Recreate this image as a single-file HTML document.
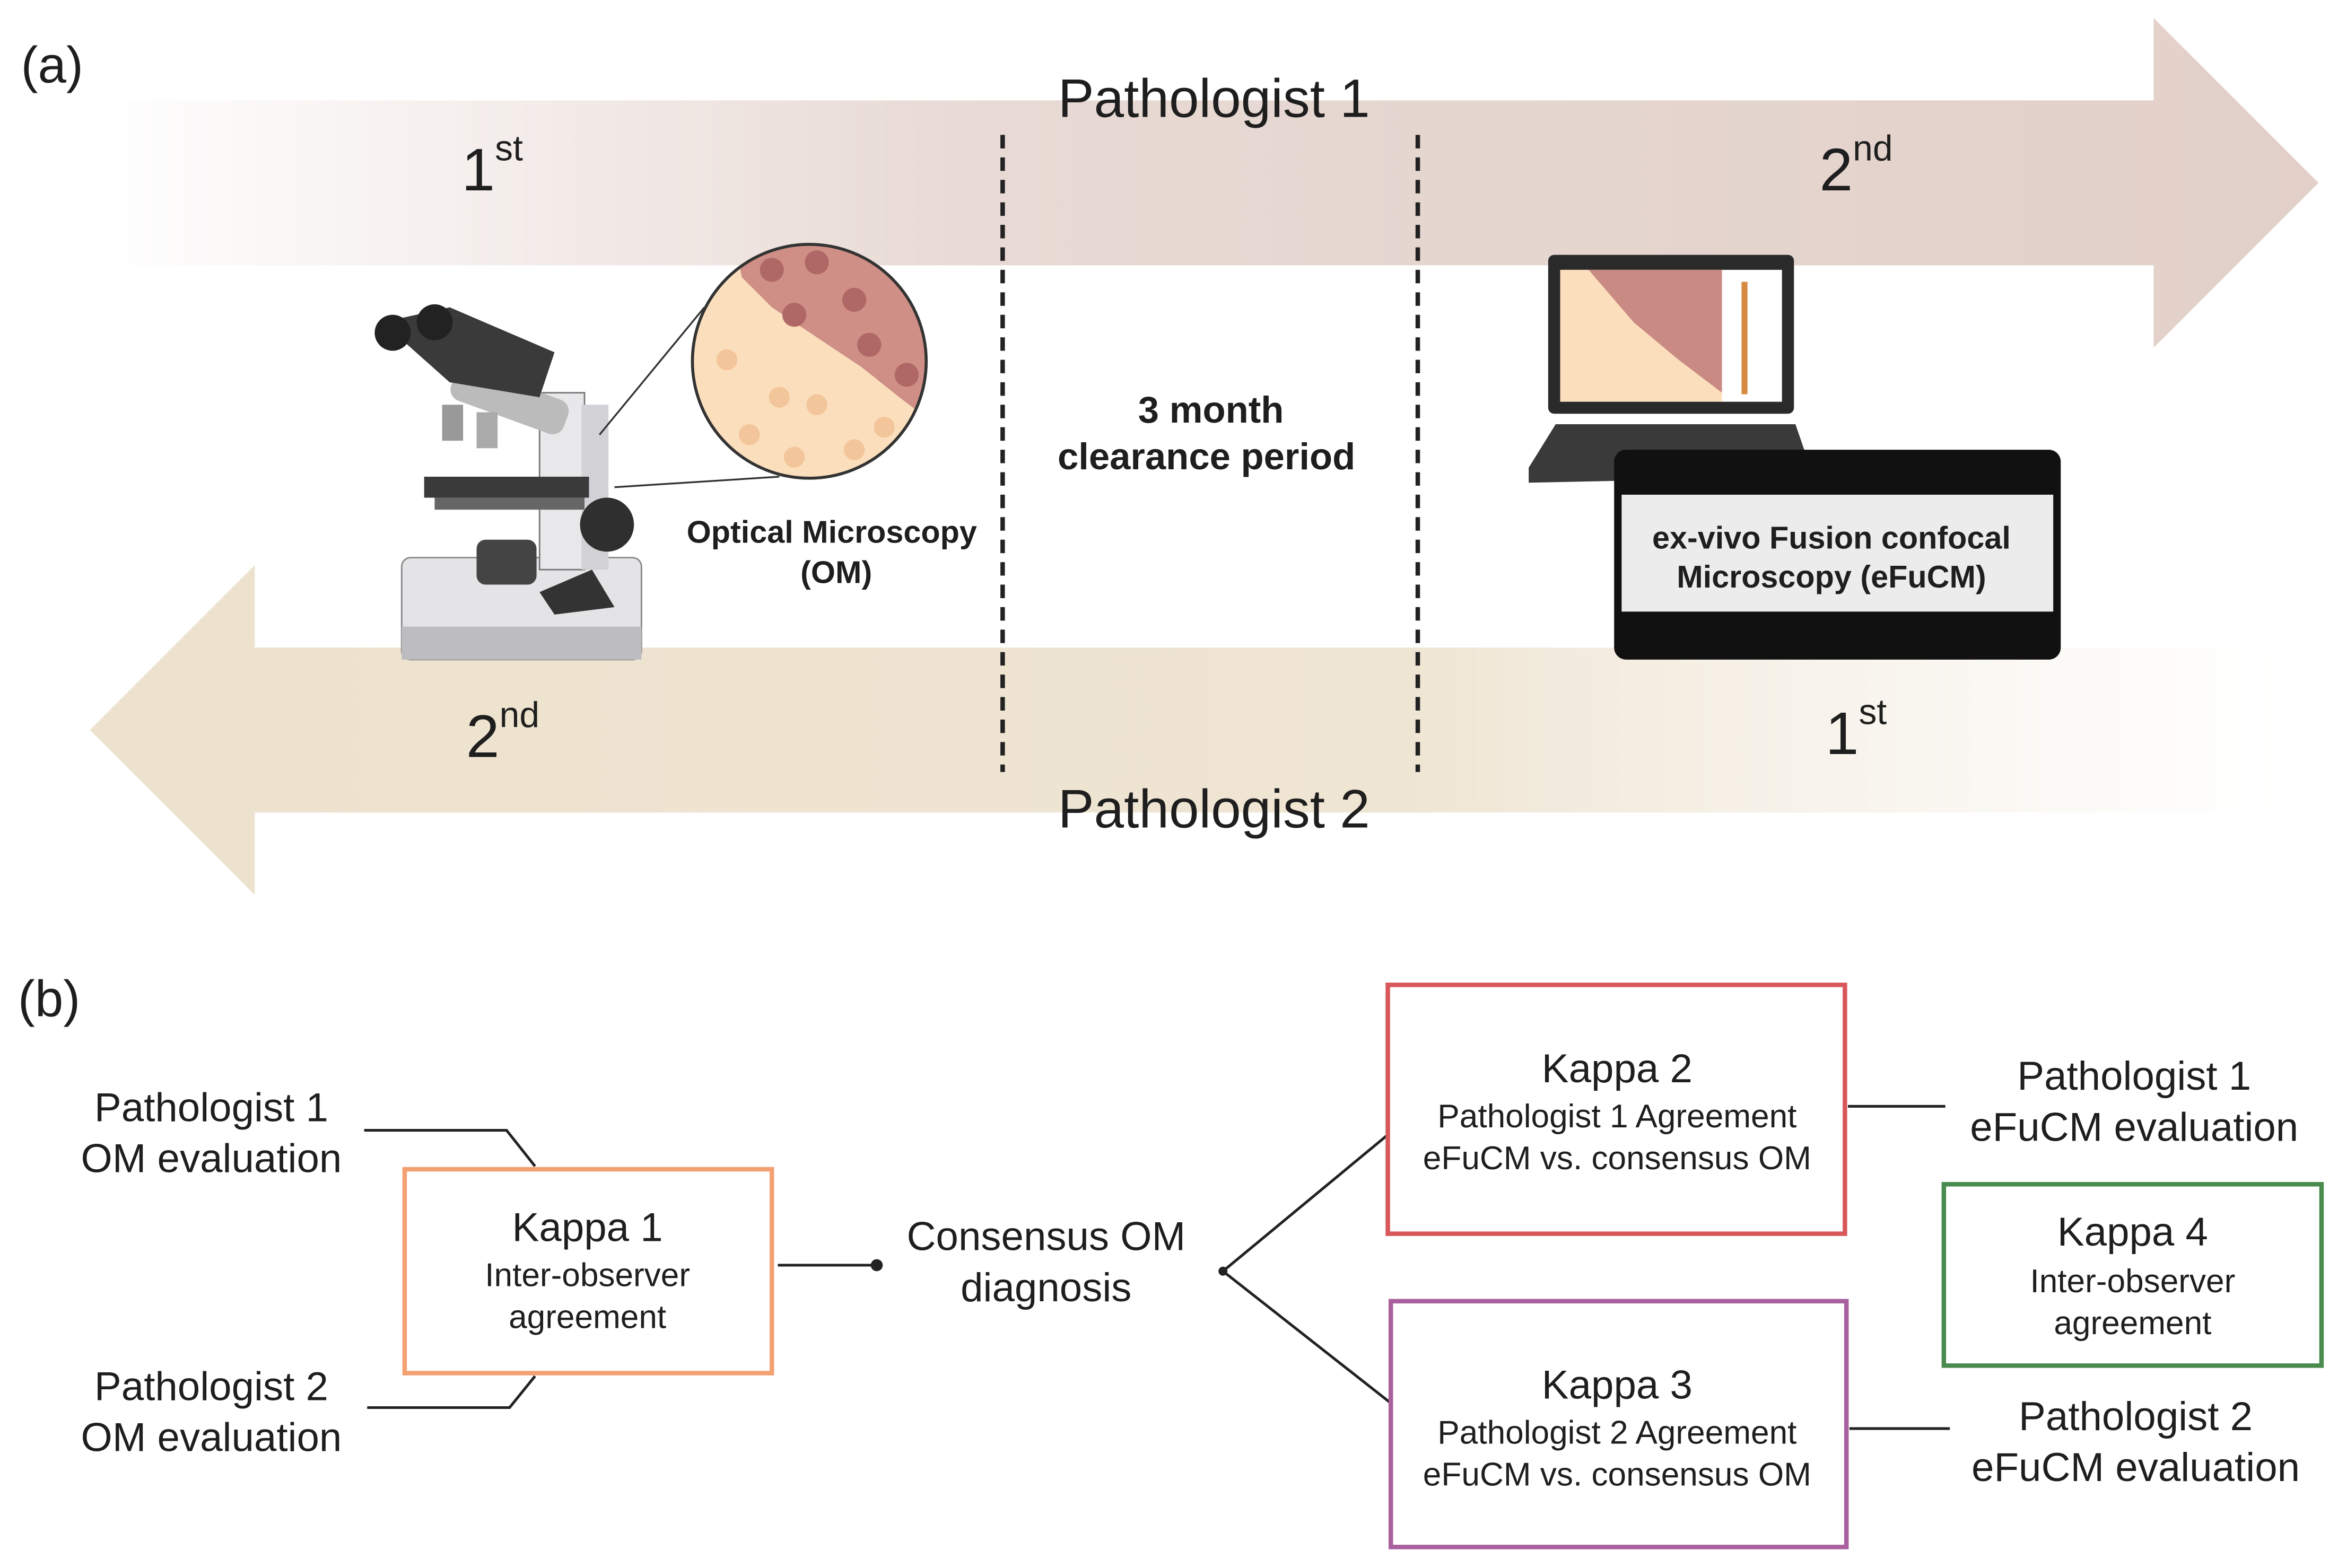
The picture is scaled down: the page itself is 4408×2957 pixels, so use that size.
<!DOCTYPE html>
<html><head><meta charset="utf-8"><style>
html,body{margin:0;padding:0;background:#fff;}
svg{display:block;}
text{font-family:"Liberation Sans",sans-serif;fill:#1e1e1e;}
</style></head><body>
<svg width="4408" height="2957" viewBox="0 0 1560 1046" preserveAspectRatio="none" xmlns="http://www.w3.org/2000/svg">
<defs>
<linearGradient id="g1" x1="60" y1="0" x2="1547" y2="0" gradientUnits="userSpaceOnUse">
<stop offset="0" stop-color="#e5d5cf" stop-opacity="0"/>
<stop offset="0.4" stop-color="#e5d5cf" stop-opacity="0.9"/>
<stop offset="1" stop-color="#e2d0c9"/>
</linearGradient>
<linearGradient id="g2" x1="60" y1="0" x2="1525" y2="0" gradientUnits="userSpaceOnUse">
<stop offset="0" stop-color="#ede2cd"/>
<stop offset="0.6" stop-color="#efe5d3"/>
<stop offset="1" stop-color="#f3ece0" stop-opacity="0"/>
</linearGradient>
<clipPath id="cc"><circle cx="540" cy="241" r="78"/></clipPath>
<clipPath id="sc"><rect x="1041" y="180" width="108" height="88"/></clipPath>
</defs>
<rect width="1560" height="1046" fill="#fff"/>
<!-- top arrow -->
<path d="M60 67 H1437 V12 L1547 122 L1437 232 V177 H60 Z" fill="url(#g1)"/>
<!-- bottom arrow -->
<path d="M1525 432 H170 V377 L60 487 L170 597 V542 H1525 Z" fill="url(#g2)"/>
<line x1="669" y1="90" x2="669" y2="515" stroke="#222" stroke-width="3" stroke-dasharray="9,6"/>
<line x1="946" y1="90" x2="946" y2="515" stroke="#222" stroke-width="3" stroke-dasharray="9,6"/>
<text x="14" y="55" font-size="34">(a)</text>
<text x="810" y="78" font-size="36" text-anchor="middle">Pathologist 1</text>
<text x="308" y="127" font-size="40">1<tspan font-size="24" dy="-20">st</tspan></text>
<text x="1214" y="127" font-size="40">2<tspan font-size="24" dy="-20">nd</tspan></text>
<text x="311" y="505" font-size="40">2<tspan font-size="24" dy="-20">nd</tspan></text>
<text x="1218" y="503" font-size="40">1<tspan font-size="24" dy="-20">st</tspan></text>
<text x="810" y="552" font-size="36" text-anchor="middle">Pathologist 2</text>
<text x="808" y="282" font-size="25" font-weight="bold" text-anchor="middle">3 month</text>
<text x="805" y="313" font-size="25" font-weight="bold" text-anchor="middle">clearance period</text>
<!-- microscope -->
<g>
<rect x="268" y="372" width="160" height="68" rx="6" fill="#e4e4e6" stroke="#888" stroke-width="1"/>
<rect x="268" y="418" width="160" height="22" fill="#bdbdc1"/>
<polygon points="360,395 395,380 410,405 370,410" fill="#333"/>
<rect x="360" y="262" width="30" height="118" fill="#e8e8ea" stroke="#777"/>
<rect x="388" y="270" width="18" height="110" fill="#d2d2d6"/>
<rect x="283" y="318" width="110" height="14" fill="#3a3a3a"/>
<rect x="290" y="332" width="100" height="8" fill="#666"/>
<rect x="318" y="360" width="40" height="30" rx="6" fill="#444"/>
<circle cx="405" cy="350" r="18" fill="#2f2f2f"/>
<rect x="300" y="255" width="80" height="24" rx="8" fill="#bbb" transform="rotate(20 340 267)"/>
<rect x="295" y="270" width="14" height="24" fill="#999"/>
<rect x="318" y="275" width="14" height="24" fill="#aaa"/>
<polygon points="255,215 300,205 370,235 360,265 300,255" fill="#3a3a3a"/>
<circle cx="262" cy="222" r="12" fill="#222"/>
<circle cx="290" cy="215" r="12" fill="#222"/>
</g>
<!-- zoom lines -->
<line x1="470" y1="205" x2="400" y2="290" stroke="#333" stroke-width="1.2"/>
<line x1="520" y1="318" x2="410" y2="325" stroke="#333" stroke-width="1.2"/>
<!-- tissue circle -->
<g clip-path="url(#cc)">
<rect x="460" y="160" width="160" height="165" fill="#fbdfbd"/>
<path d="M490 160 L620 160 L620 280 L600 265 L575 245 L545 225 L515 205 L495 185 Z" fill="#cf8f86"/>
<g fill="#f3c59a"><circle cx="485" cy="240" r="7"/><circle cx="520" cy="265" r="7"/><circle cx="500" cy="290" r="7"/><circle cx="545" cy="270" r="7"/><circle cx="570" cy="300" r="7"/><circle cx="530" cy="305" r="7"/><circle cx="590" cy="285" r="7"/></g>
<g fill="#b06866"><circle cx="515" cy="180" r="8"/><circle cx="545" cy="175" r="8"/><circle cx="570" cy="200" r="8"/><circle cx="530" cy="210" r="8"/><circle cx="580" cy="230" r="8"/><circle cx="605" cy="250" r="8"/></g>
</g>
<circle cx="540" cy="241" r="78" fill="none" stroke="#333" stroke-width="2"/>
<text x="555" y="362" font-size="21" font-weight="bold" text-anchor="middle">Optical Microscopy</text>
<text x="558" y="389" font-size="21" font-weight="bold" text-anchor="middle">(OM)</text>
<!-- laptop -->
<rect x="1033" y="170" width="164" height="106" rx="4" fill="#2a2a2a"/>
<rect x="1041" y="180" width="148" height="88" fill="#fff"/>
<g clip-path="url(#sc)">
<rect x="1041" y="180" width="108" height="88" fill="#fbdfbd"/>
<path d="M1060 180 H1149 V262 L1120 240 L1090 215 Z" fill="#c98a83"/>
</g>
<rect x="1162" y="188" width="4" height="75" fill="#d68a40"/>
<polygon points="1038,283 1198,283 1210,318 1020,322 1020,312" fill="#3a3a3a"/>
<!-- device -->
<rect x="1077" y="300" width="298" height="140" rx="8" fill="#111"/>
<rect x="1082" y="330" width="288" height="78" fill="#ececec"/>
<text x="1222" y="366" font-size="21" font-weight="bold" text-anchor="middle">ex-vivo Fusion confocal</text>
<text x="1222" y="392" font-size="21" font-weight="bold" text-anchor="middle">Microscopy (eFuCM)</text>
<!-- part b -->
<text x="12" y="678" font-size="34">(b)</text>
<g font-size="27" text-anchor="middle">
<text x="141" y="748">Pathologist 1</text>
<text x="141" y="782">OM evaluation</text>
<text x="141" y="934">Pathologist 2</text>
<text x="141" y="968">OM evaluation</text>
<text x="698" y="834">Consensus OM</text>
<text x="698" y="868">diagnosis</text>
<text x="1424" y="727">Pathologist 1</text>
<text x="1424" y="761">eFuCM evaluation</text>
<text x="1425" y="954">Pathologist 2</text>
<text x="1425" y="988">eFuCM evaluation</text>
</g>
<g fill="none" stroke="#222" stroke-width="1.8">
<polyline points="243,754 338,754 357,778"/>
<polyline points="245,939 340,939 357,918"/>
<line x1="519" y1="844" x2="585" y2="844"/>
<line x1="816" y1="848" x2="926" y2="757"/>
<line x1="816" y1="848" x2="928" y2="936"/>
<line x1="1233" y1="738" x2="1298" y2="738"/>
<line x1="1234" y1="953" x2="1301" y2="953"/>
</g>
<circle cx="585" cy="844" r="4" fill="#222"/>
<circle cx="816" cy="848" r="3" fill="#222"/>
<rect x="270" y="780" width="245" height="136" fill="none" stroke="#f4a070" stroke-width="3"/>
<rect x="926" y="657" width="305" height="166" fill="none" stroke="#d9575a" stroke-width="3"/>
<rect x="1297" y="790" width="252" height="121" fill="none" stroke="#4a8a4f" stroke-width="3"/>
<rect x="928" y="868" width="304" height="164" fill="none" stroke="#a8609e" stroke-width="3"/>
<g text-anchor="middle">
<text x="392" y="828" font-size="27">Kappa 1</text>
<text x="392" y="858" font-size="22">Inter-observer</text>
<text x="392" y="886" font-size="22">agreement</text>
<text x="1079" y="722" font-size="27">Kappa 2</text>
<text x="1079" y="752" font-size="22">Pathologist 1 Agreement</text>
<text x="1079" y="780" font-size="22">eFuCM vs. consensus OM</text>
<text x="1423" y="831" font-size="27">Kappa 4</text>
<text x="1423" y="862" font-size="22">Inter-observer</text>
<text x="1423" y="890" font-size="22">agreement</text>
<text x="1079" y="933" font-size="27">Kappa 3</text>
<text x="1079" y="963" font-size="22">Pathologist 2 Agreement</text>
<text x="1079" y="991" font-size="22">eFuCM vs. consensus OM</text>
</g>
</svg>
</body></html>
